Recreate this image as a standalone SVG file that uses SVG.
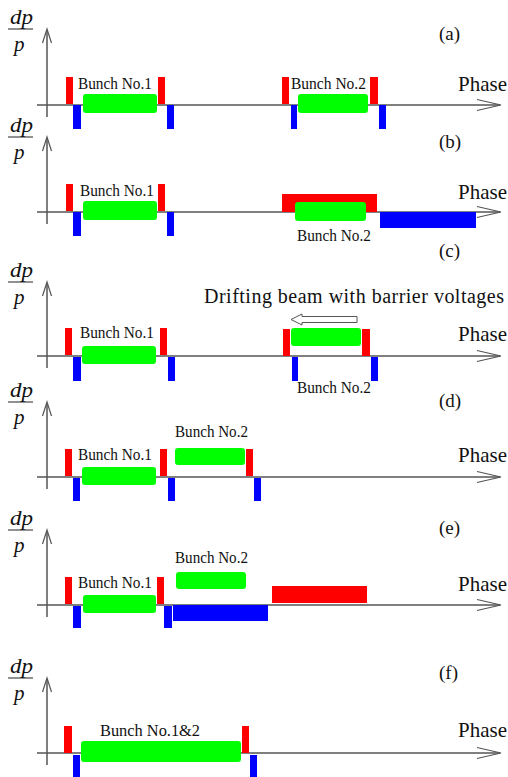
<svg xmlns="http://www.w3.org/2000/svg" width="508" height="777" viewBox="0 0 508 777" font-family="'Liberation Serif', 'Times New Roman', 'DejaVu Serif', serif">
<style>
.ax{fill:none;stroke:#555;stroke-width:1.5}
.ah{fill:none;stroke:#555;stroke-width:1.2}
.r{fill:#ff0000}
.b{fill:#0000ff}
.g{fill:#00ff00}
text{font-family:'Liberation Serif','Times New Roman','DejaVu Serif',serif;fill:#111}
.lb{font-size:16px}
.ph{font-size:21px}
.pl{font-size:19px}
.dp{font-size:21px;font-style:italic}
.fl{stroke:#555;stroke-width:1.3}
</style>
<rect width="508" height="777" fill="#fff"/>

<g id="panel-a">
<g id="axes-a">
<line class="fl" x1="8" y1="29" x2="33" y2="29"/>
<text class="dp" x="10" y="23.5" textLength="23" lengthAdjust="spacingAndGlyphs">dp</text>
<text class="dp" x="14" y="51">p</text>
<path class="ax" d="M47,30 V117 M37,105 H500"/>
<path class="ah" d="M42.5,43 L47,29 L51.5,43 M477,99.5 L501,105 L477,110.5"/>
</g>
<rect class="r" x="66" y="77" width="7" height="27"/>
<rect class="r" x="158" y="77" width="7" height="27"/>
<rect class="r" x="282" y="77" width="7" height="27"/>
<rect class="r" x="370" y="77" width="8" height="27"/>
<rect class="b" x="73" y="105" width="8" height="24"/>
<rect class="b" x="167" y="105" width="7" height="24"/>
<rect class="b" x="291" y="105" width="6" height="24"/>
<rect class="b" x="379" y="105" width="7" height="24"/>
<rect class="g" x="83" y="94" width="74" height="19" rx="3"/>
<rect class="g" x="298" y="94" width="70" height="19" rx="3"/>
<text class="lb" x="78" y="89" textLength="74" lengthAdjust="spacingAndGlyphs">Bunch No.1</text>
<text class="lb" x="291" y="89" textLength="75" lengthAdjust="spacingAndGlyphs">Bunch No.2</text>
<text class="ph" x="458" y="91">Phase</text>
<text class="pl" x="439" y="40">(a)</text>
</g>

<g id="panel-b">
<g id="axes-b">
<line class="fl" x1="8" y1="137" x2="33" y2="137"/>
<text class="dp" x="10" y="131.5" textLength="23" lengthAdjust="spacingAndGlyphs">dp</text>
<text class="dp" x="14" y="159">p</text>
<path class="ax" d="M47,138 V224 M37,212 H500"/>
<path class="ah" d="M42.5,151 L47,137 L51.5,151 M477,206.5 L501,212 L477,217.5"/>
</g>
<rect class="r" x="66" y="184" width="7" height="27"/>
<rect class="r" x="158" y="184" width="7" height="27"/>
<rect class="b" x="73" y="212" width="8" height="24"/>
<rect class="b" x="167" y="212" width="7" height="24"/>
<rect class="g" x="83" y="201" width="74" height="19" rx="3"/>
<rect class="r" x="282" y="194" width="95" height="18"/>
<rect class="g" x="295" y="202" width="71" height="19" rx="3"/>
<rect class="b" x="380" y="212" width="96" height="16"/>
<text class="lb" x="80" y="196" textLength="74" lengthAdjust="spacingAndGlyphs">Bunch No.1</text>
<text class="lb" x="297" y="241" textLength="74" lengthAdjust="spacingAndGlyphs">Bunch No.2</text>
<text class="ph" x="458" y="199">Phase</text>
<text class="pl" x="439" y="148">(b)</text>
</g>

<g id="panel-c">
<g id="axes-c">
<line class="fl" x1="8" y1="282" x2="33" y2="282"/>
<text class="dp" x="10" y="276.5" textLength="23" lengthAdjust="spacingAndGlyphs">dp</text>
<text class="dp" x="14" y="304">p</text>
<path class="ax" d="M47,283 V368 M37,356 H500"/>
<path class="ah" d="M42.5,296 L47,282 L51.5,296 M477,350.5 L501,356 L477,361.5"/>
</g>
<rect class="r" x="65" y="328" width="7" height="27"/>
<rect class="r" x="160" y="328" width="7" height="27"/>
<rect class="r" x="283" y="329" width="7" height="27"/>
<rect class="r" x="362" y="329" width="8" height="27"/>
<rect class="b" x="73" y="357" width="8" height="24"/>
<rect class="b" x="168" y="357" width="7" height="24"/>
<rect class="b" x="292" y="357" width="6" height="24"/>
<rect class="b" x="371" y="357" width="7" height="24"/>
<rect class="g" x="82" y="346" width="74" height="18" rx="3"/>
<rect class="g" x="291" y="328" width="70" height="18" rx="3"/>
<polygon id="drift-arrow" points="291,319.5 302,314 302,316.5 357,316.5 357,322.5 302,322.5 302,325" fill="#fff" stroke="#555" stroke-width="1"/>
<text font-size="20" x="204" y="303" textLength="300" lengthAdjust="spacing">Drifting beam with barrier voltages</text>
<text class="lb" x="80" y="338" textLength="74" lengthAdjust="spacingAndGlyphs">Bunch No.1</text>
<text class="lb" x="297" y="393" textLength="74" lengthAdjust="spacingAndGlyphs">Bunch No.2</text>
<text class="ph" x="458" y="341">Phase</text>
<text class="pl" x="439" y="257">(c)</text>
</g>

<g id="panel-d">
<g id="axes-d">
<line class="fl" x1="8" y1="402" x2="33" y2="402"/>
<text class="dp" x="10" y="396.5" textLength="23" lengthAdjust="spacingAndGlyphs">dp</text>
<text class="dp" x="14" y="424">p</text>
<path class="ax" d="M47,403 V489 M37,477 H500"/>
<path class="ah" d="M42.5,416 L47,402 L51.5,416 M477,471.5 L501,477 L477,482.5"/>
</g>
<rect class="r" x="65" y="449" width="7" height="27"/>
<rect class="r" x="160" y="449" width="7" height="27"/>
<rect class="r" x="246" y="449" width="7" height="27"/>
<rect class="b" x="73" y="478" width="7" height="23"/>
<rect class="b" x="168" y="478" width="7" height="23"/>
<rect class="b" x="254" y="478" width="7" height="23"/>
<rect class="g" x="82" y="467" width="74" height="18" rx="3"/>
<rect class="g" x="175" y="448" width="70" height="17" rx="3"/>
<text class="lb" x="78" y="460" textLength="74" lengthAdjust="spacingAndGlyphs">Bunch No.1</text>
<text class="lb" x="175" y="437" textLength="73" lengthAdjust="spacingAndGlyphs">Bunch No.2</text>
<text class="ph" x="458" y="462">Phase</text>
<text class="pl" x="439" y="407">(d)</text>
</g>

<g id="panel-e">
<g id="axes-e">
<line class="fl" x1="8" y1="530" x2="33" y2="530"/>
<text class="dp" x="10" y="524.5" textLength="23" lengthAdjust="spacingAndGlyphs">dp</text>
<text class="dp" x="14" y="552">p</text>
<path class="ax" d="M47,531 V617 M37,605 H500"/>
<path class="ah" d="M42.5,544 L47,530 L51.5,544 M477,599.5 L501,605 L477,610.5"/>
</g>
<rect class="r" x="65" y="577" width="7" height="27"/>
<rect class="r" x="157" y="577" width="7" height="27"/>
<rect class="r" x="272" y="586" width="95" height="17"/>
<rect class="b" x="73" y="606" width="8" height="22"/>
<rect class="b" x="164" y="606" width="8" height="22"/>
<rect class="b" x="173" y="605" width="95" height="16"/>
<rect class="g" x="83" y="595" width="73" height="18" rx="3"/>
<rect class="g" x="176" y="572" width="70" height="17" rx="3"/>
<text class="lb" x="78" y="588" textLength="74" lengthAdjust="spacingAndGlyphs">Bunch No.1</text>
<text class="lb" x="175" y="563" textLength="73" lengthAdjust="spacingAndGlyphs">Bunch No.2</text>
<text class="ph" x="458" y="591">Phase</text>
<text class="pl" x="439" y="534">(e)</text>
</g>

<g id="panel-f">
<g id="axes-f">
<line class="fl" x1="8" y1="678" x2="33" y2="678"/>
<text class="dp" x="10" y="672.5" textLength="23" lengthAdjust="spacingAndGlyphs">dp</text>
<text class="dp" x="14" y="700">p</text>
<path class="ax" d="M47,679 V765 M37,753 H500"/>
<path class="ah" d="M42.5,692 L47,678 L51.5,692 M477,747.5 L501,753 L477,758.5"/>
</g>
<rect class="r" x="64" y="726" width="8" height="27"/>
<rect class="r" x="242" y="726" width="7" height="27"/>
<rect class="b" x="73" y="755" width="7" height="22"/>
<rect class="b" x="250" y="755" width="7" height="22"/>
<rect class="g" x="81" y="741" width="160" height="21" rx="3"/>
<text class="lb" x="100" y="736" textLength="100" lengthAdjust="spacingAndGlyphs">Bunch No.1&amp;2</text>
<text class="ph" x="458" y="737">Phase</text>
<text class="pl" x="439" y="679">(f)</text>
</g>
</svg>
